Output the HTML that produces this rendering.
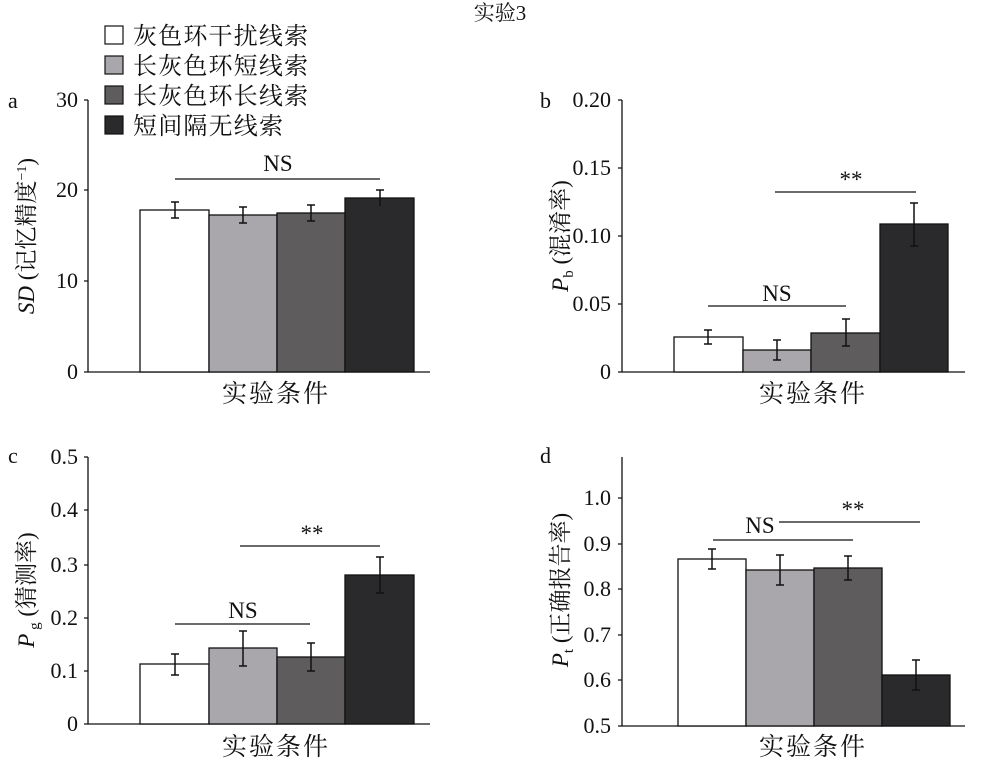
<!DOCTYPE html>
<html><head><meta charset="utf-8"><style>
body{margin:0;background:#fff}
svg{display:block}
text{font-family:"Liberation Serif","Noto Serif CJK SC",serif;fill:#111}
</style></head><body>
<svg width="1000" height="760" viewBox="0 0 1000 760" xmlns="http://www.w3.org/2000/svg">
<g stroke="#111" stroke-width="1.3" fill="none">
<path d="M88,100 V372 H430 M84,100H88 M84,190H88 M84,281H88 M84,372H88"/>
<path d="M622,100 V372 H965 M618,100H622 M618,168H622 M618,236H622 M618,304H622 M618,372H622"/>
<path d="M88,457 V724 H430 M84,457H88 M84,510H88 M84,565H88 M84,618H88 M84,671H88 M84,724H88"/>
<path d="M622,457 V726 H965 M618,498H622 M618,544H622 M618,589H622 M618,635H622 M618,680H622 M618,726H622"/>
</g>
<text x="500" y="20" font-size="21" text-anchor="middle">实验3</text>
<g stroke="#111" stroke-width="1.2">
<rect x="105" y="26" width="18" height="18" fill="#fff"/>
<rect x="105" y="56" width="18" height="18" fill="#a9a7ab"/>
<rect x="105" y="86" width="18" height="18" fill="#5f5c5e"/>
<rect x="105" y="116" width="18" height="18" fill="#2a2a2c"/>
</g>
<g font-size="24" textLength="175">
<text x="133" y="44" textLength="175">灰色环干扰线索</text>
<text x="133" y="74" textLength="175">长灰色环短线索</text>
<text x="133" y="104" textLength="175">长灰色环长线索</text>
<text x="133" y="134" textLength="150">短间隔无线索</text>
</g>
<g font-size="22" text-anchor="end">
<text x="78" y="107">30</text><text x="78" y="197">20</text><text x="78" y="288">10</text><text x="78" y="379">0</text>
<text x="611" y="107">0.20</text><text x="611" y="175">0.15</text><text x="611" y="243">0.10</text><text x="611" y="311">0.05</text><text x="611" y="379">0</text>
<text x="78" y="464">0.5</text><text x="78" y="517">0.4</text><text x="78" y="572">0.3</text><text x="78" y="625">0.2</text><text x="78" y="678">0.1</text><text x="78" y="731">0</text>
<text x="611" y="505">1.0</text><text x="611" y="551">0.9</text><text x="611" y="596">0.8</text><text x="611" y="642">0.7</text><text x="611" y="687">0.6</text><text x="611" y="733">0.5</text>
</g>
<g font-size="22">
<text x="8" y="108">a</text><text x="540" y="108">b</text><text x="8" y="463">c</text><text x="540" y="463">d</text>
</g>
<g font-size="23">
<text transform="translate(34,236) rotate(-90)" text-anchor="middle"><tspan font-style="italic">SD</tspan> (记忆精度<tspan font-size="14" dy="-8">−1</tspan><tspan dy="8">)</tspan></text>
<text transform="translate(568,236) rotate(-90)" text-anchor="middle"><tspan font-style="italic">P</tspan><tspan font-size="15" dy="5">b</tspan><tspan dy="-5"> (混淆率)</tspan></text>
<text transform="translate(34,590) rotate(-90)" text-anchor="middle"><tspan font-style="italic">P</tspan><tspan font-size="15" dy="5"> g</tspan><tspan dy="-5"> (猜测率)</tspan></text>
<text transform="translate(568,590) rotate(-90)" text-anchor="middle"><tspan font-style="italic">P</tspan><tspan font-size="15" dy="5">t</tspan><tspan dy="-5"> (正确报告率)</tspan></text>
</g>
<g font-size="25" text-anchor="middle">
<text x="275" y="402" textLength="106">实验条件</text><text x="812" y="402" textLength="106">实验条件</text>
<text x="275" y="755" textLength="106">实验条件</text><text x="812" y="755" textLength="106">实验条件</text>
</g>
<g stroke="#111" stroke-width="1.3">
<rect x="140" y="210" width="69" height="162" fill="#fff"/>
<rect x="209" y="215" width="68" height="157" fill="#a9a7ab"/>
<rect x="277" y="213" width="68" height="159" fill="#5f5c5e"/>
<rect x="345" y="198" width="69" height="174" fill="#2a2a2c"/>
<rect x="674" y="337" width="69" height="35" fill="#fff"/>
<rect x="743" y="350" width="68" height="22" fill="#a9a7ab"/>
<rect x="811" y="333" width="69" height="39" fill="#5f5c5e"/>
<rect x="880" y="224" width="68" height="148" fill="#2a2a2c"/>
<rect x="140" y="664" width="69" height="60" fill="#fff"/>
<rect x="209" y="648" width="68" height="76" fill="#a9a7ab"/>
<rect x="277" y="657" width="68" height="67" fill="#5f5c5e"/>
<rect x="345" y="575" width="69" height="149" fill="#2a2a2c"/>
<rect x="678" y="559" width="68" height="167" fill="#fff"/>
<rect x="746" y="570" width="68" height="156" fill="#a9a7ab"/>
<rect x="814" y="568" width="68" height="158" fill="#5f5c5e"/>
<rect x="882" y="675" width="68" height="51" fill="#2a2a2c"/>
</g>
<g stroke="#111" stroke-width="1.5" fill="none">
<path d="M175,202V218M171,202H179M171,218H179"/>
<path d="M243,207V223M239,207H247M239,223H247"/>
<path d="M311,205V221M307,205H315M307,221H315"/>
<path d="M380,190V206M376,190H384"/>
<path d="M708,330V344M704,330H712M704,344H712"/>
<path d="M777,340V360M773,340H781M773,360H781"/>
<path d="M846,319V346M842,319H850M842,346H850"/>
<path d="M914,203V246M910,203H918M910,246H918"/>
<path d="M175,654V675M171,654H179M171,675H179"/>
<path d="M243,631V666M239,631H247M239,666H247"/>
<path d="M311,643V671M307,643H315M307,671H315"/>
<path d="M380,557V593M376,557H384M376,593H384"/>
<path d="M712,549V569M708,549H716M708,569H716"/>
<path d="M780,555V585M776,555H784M776,585H784"/>
<path d="M848,556V580M844,556H852M844,580H852"/>
<path d="M916,660V690M912,660H920M912,690H920"/>
</g>
<g stroke="#111" stroke-width="1.3">
<path d="M175,179H380"/>
<path d="M708,306H846 M775,192H916"/>
<path d="M175,624H310 M240,546H380"/>
<path d="M713,540H853 M779,522H920"/>
</g>
<g font-size="23" text-anchor="middle">
<text x="278" y="171">NS</text>
<text x="777" y="301">NS</text><text x="851" y="187">**</text>
<text x="243" y="618">NS</text><text x="312" y="541">**</text>
<text x="760" y="533">NS</text><text x="853" y="517">**</text>
</g>
</svg>
</body></html>
